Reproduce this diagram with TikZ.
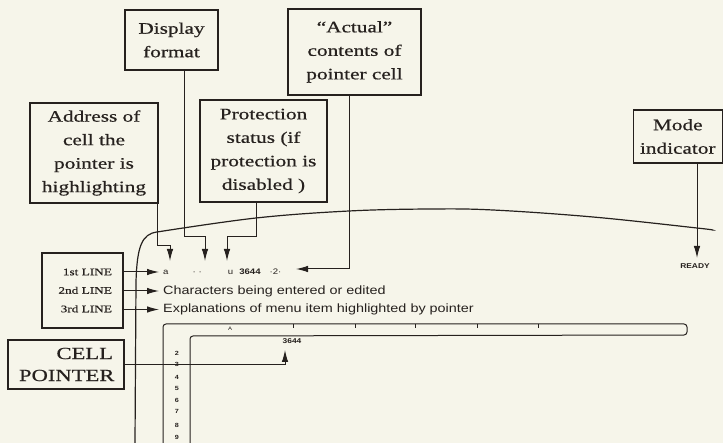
\documentclass[tikz,border=0pt]{standalone}
\usepackage{fontspec}
\setmainfont{Liberation Serif}
\newfontfamily\boxfont[FakeStretch=1.33,FakeBold=0.6]{Liberation Serif}
\newfontfamily\scrfont[FakeStretch=1.2]{Liberation Sans}
\usetikzlibrary{arrows.meta,calc}
\definecolor{bg}{RGB}{246,245,234}
\definecolor{ink}{RGB}{38,33,30}
\begin{document}
\begin{tikzpicture}[x=1pt,y=-1pt,
  box/.style={draw=ink,line width=1.3pt,inner sep=0pt,align=center,text=ink,
    font=\boxfont\fontsize{16}{23.5}\selectfont},
  conn/.style={draw=ink,line width=1pt},
  arr/.style={conn,-{Latex[length=12pt,width=6.5pt]}},
  scr/.style={text=ink,inner sep=0pt,font=\scrfont\fontsize{12}{14}\selectfont},
  tinytxt/.style={text=ink,inner sep=0pt,font=\scrfont\bfseries\fontsize{7}{8}\selectfont}]
\fill[bg] (0,0) rectangle (723,443);
\useasboundingbox (0,0) rectangle (723,443);

% label boxes
\node[box,minimum width=93pt,minimum height=60pt] (disp) at (171.5,40) {Display\\format};
\node[box,minimum width=133pt,minimum height=86pt] (act) at (354.5,52) {“Actual”\\contents of\\pointer cell};
\node[box,minimum width=128pt,minimum height=100pt] (addr) at (94,153) {Address of\\cell the\\pointer is\\highlighting};
\node[box,minimum width=127pt,minimum height=102pt] (prot) at (263.5,151) {Protection\\status (if\\protection is\\disabled )};
\node[box,minimum width=89pt,minimum height=53pt] (mode) at (677.75,136.5) {Mode\\indicator};
\node[box,minimum width=81pt,minimum height=75pt,text width=59pt,align=right,
  font=\boxfont\fontsize{10}{18.5}\selectfont] (lines) at (82.5,290.5) {1st LINE\\2nd LINE\\3rd LINE};
\node[box,minimum width=116pt,minimum height=49pt,text width=94pt,align=right,
  font=\boxfont\fontsize{17}{22}\selectfont] (cp) at (66,364.5) {CELL\\POINTER};

% screen outline
\draw[conn,line width=1.2pt] (135,443) -- (136,282) .. controls (137,246) and (142,234) .. (157,232);
\draw[conn,line width=1.2pt] plot[smooth,tension=0.6] coordinates
  {(157,232) (256,218) (349,211) (430,209) (493,210) (593,217) (697,228) (712,230)};

% control panel text
\node[scr,anchor=west,font=\scrfont\fontsize{8}{9}\selectfont] (l1) at (163,272)
  {a\hspace{24pt}·\hspace{3pt}·\hspace{26pt}u\hspace{6pt}\textbf{3644}\hspace{9pt}·2·};
\node[scr,anchor=west] (l2) at (163,291) {Characters being entered or edited};
\node[scr,anchor=west] (l3) at (163,309.5) {Explanations of menu item highlighted by pointer};
\node[tinytxt] (ready) at (695,266) {READY};

% arrow targets
\coordinate (tA) at (170,261);
\coordinate (tD) at (205,261);
\coordinate (tP) at (227,261);
\coordinate (tX) at (296,269);
\coordinate (tM) at (697,258);
\coordinate (tC) at (285,350);

% connectors
\draw[arr] ([xshift=-1pt]addr.south east) -- ++(0,42) -| (tA);
\draw[arr] ([xshift=12.5pt]disp.south) |- (tD |- 0,237) -- (tD);
\draw[arr] ([xshift=-7.5pt]prot.south) |- (tP |- 0,237) -- (tP);
\draw[arr] ([xshift=-5.5pt]act.south) |- (tX);
\draw[arr] ([xshift=19.25pt]mode.south) -- (tM);
\draw[arr] (lines.east |- l1.west) -- ([xshift=-4pt]l1.west);
\draw[arr] (lines.east |- l2.west) -- ([xshift=-4pt]l2.west);
\draw[arr] (lines.east |- l3.west) -- ([xshift=-4pt]l3.west);
\draw[arr] (cp.east) -| (tC);

% worksheet frame
\draw[conn,rounded corners=3pt] (163,443) -- (163,324) -- (687,324) -- (687,335) -- (190,336) -- (190,443);
\foreach \x in {293,355,415,477,538} \draw[conn] (\x,324) -- (\x,328);
\node[tinytxt,font=\scrfont\fontsize{5}{6}\selectfont] (colA) at (230,329) {A};
\foreach \n/\y in {2/353,3/364,4/377,5/388,6/400,7/411,8/425,9/437}
  \node[tinytxt,font=\scrfont\bfseries\fontsize{6}{7}\selectfont] (row\n) at (177,\y) {\n};
\node[tinytxt] (cellval) at (292,341) {3644};
\end{tikzpicture}
\end{document}
